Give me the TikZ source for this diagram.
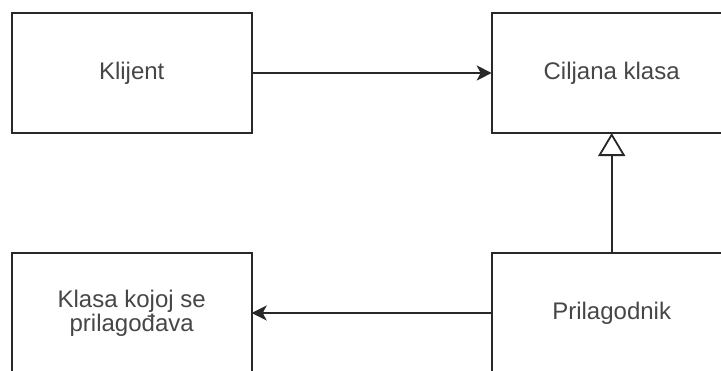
\documentclass[tikz,border=0pt]{standalone}
\usepackage{fontspec}
\setmainfont{Liberation Sans}
\usetikzlibrary{arrows.meta, positioning}

\definecolor{LineGray}{RGB}{40, 40, 40}
\definecolor{TextGray}{RGB}{70, 70, 70}

\tikzset{
    klasa/.style={draw=LineGray, line width=1.8pt, rectangle, minimum width=240pt, minimum height=120pt, inner sep=0pt, outer sep=0pt, align=center, text=TextGray, font=\fontsize{24}{24}\selectfont},
    veza/.style={draw=LineGray, line width=1.8pt}
}

\begin{document}
\begin{tikzpicture}[x=1pt, y=-1pt, node distance=120pt and 240pt]
    \useasboundingbox (0,0) rectangle (721,370);
    \clip (0,0) rectangle (721,370);
    \node[klasa] (klijent) at (131.7,73) {Klijent};
    \node[klasa, right=of klijent] (cilj) {Ciljana klasa};
    \node[klasa, below=of cilj] (prilag) {Prilagodnik};
    \node[klasa, below=of klijent] (adaptee) {Klasa kojoj se\\prilagođava};

    \draw[veza, -{Stealth[length=15pt, width=15pt, inset=4pt]}] (klijent) -- (cilj);
    \draw[veza, -{Stealth[length=15pt, width=15pt, inset=4pt]}] (prilag) -- (adaptee);
    \draw[veza, -{Triangle[open, length=23pt, width=27pt, fill=white]}] (prilag) -- (cilj);
\end{tikzpicture}
\end{document}
